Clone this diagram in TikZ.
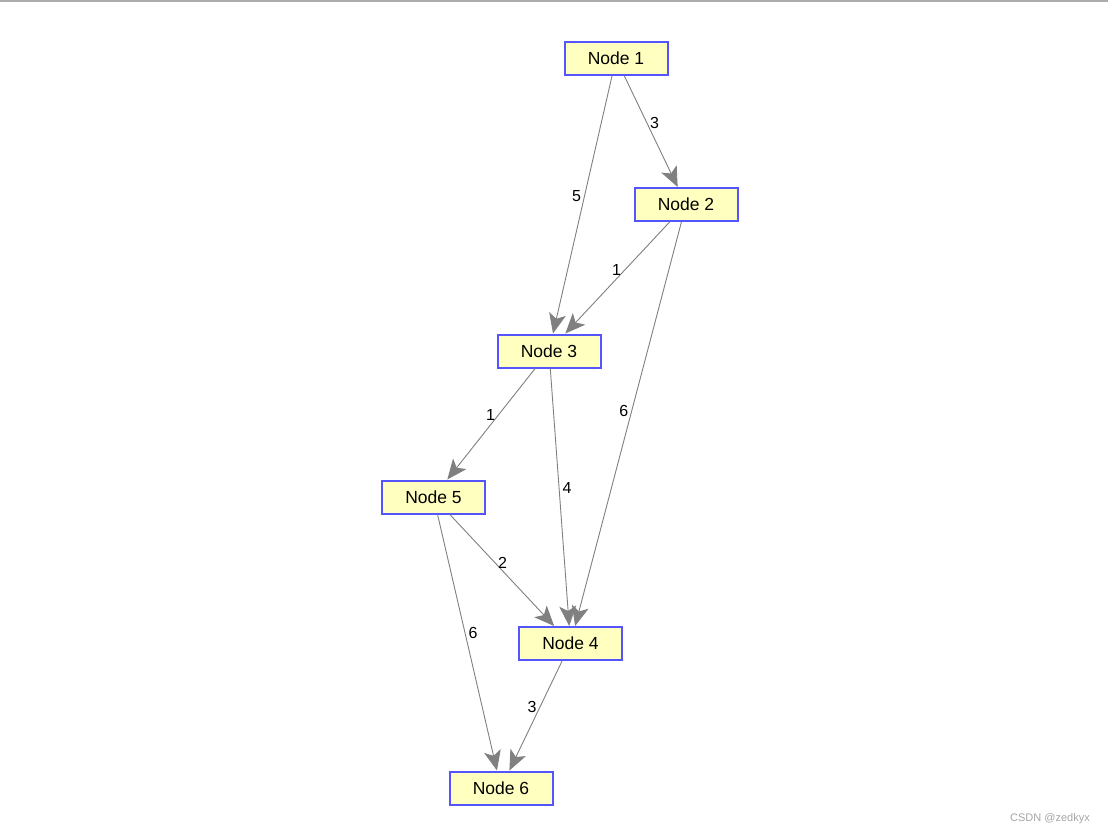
\documentclass[tikz,border=0pt]{standalone}
\usepackage{fontspec}
\setmainfont{Liberation Sans}
\usetikzlibrary{arrows.meta}
\definecolor{boxfill}{HTML}{FFFFC0}
\definecolor{boxline}{HTML}{5555FF}
\tikzset{
  box/.style={draw=boxline, fill=boxfill, line width=2pt, minimum width=103pt, minimum height=33pt, inner sep=0pt, font=\fontsize{17.5}{20}\selectfont},
  edge/.style={draw=gray, line width=0.9pt, -{Stealth[length=20pt, width=17pt, inset=5pt]}},
  lbl/.style={inner sep=3pt, font=\fontsize{16}{18}\selectfont}
}
\begin{document}
\begin{tikzpicture}[x=1pt, y=-1pt]
  \useasboundingbox (0,0) rectangle (1108,836);
  \fill[white] (0,0) rectangle (1108,836);
  \draw[gray!65, line width=2pt] (0,1) -- (1108,1);
  \node[box] (n1) at (616,58.5) {Node 1};
  \node[box] (n2) at (686,204.5) {Node 2};
  \node[box] (n3) at (549,351) {Node 3};
  \node[box] (n5) at (433.5,497) {Node 5};
  \node[box] (n4) at (570.5,643.5) {Node 4};
  \node[box] (n6) at (501,788) {Node 6};
  \draw[edge] (n1) -- node[lbl, pos=0.42, anchor=west] {3} (n2);
  \draw[edge] (n1) -- node[lbl, pos=0.467, anchor=east] {5} (n3);
  \draw[edge] (n2) -- node[lbl, pos=0.433, anchor=east] {1} (n3);
  \draw[edge] (n2) -- node[lbl, pos=0.468, anchor=east] {6} (n4);
  \draw[edge] (n3) -- node[lbl, pos=0.418, anchor=east] {1} (n5);
  \draw[edge] (n3) -- node[lbl, pos=0.465, anchor=west] {4} (n4);
  \draw[edge] (n5) -- node[lbl, pos=0.43, anchor=west] {2} (n4);
  \draw[edge] (n5) -- node[lbl, pos=0.464, anchor=west] {6} (n6);
  \draw[edge] (n4) -- node[lbl, pos=0.419, anchor=east] {3} (n6);
  \node[text=gray!70, font=\fontsize{11}{13}\selectfont] (mark) at (1050,819) {CSDN @zedkyx};
\end{tikzpicture}
\end{document}
